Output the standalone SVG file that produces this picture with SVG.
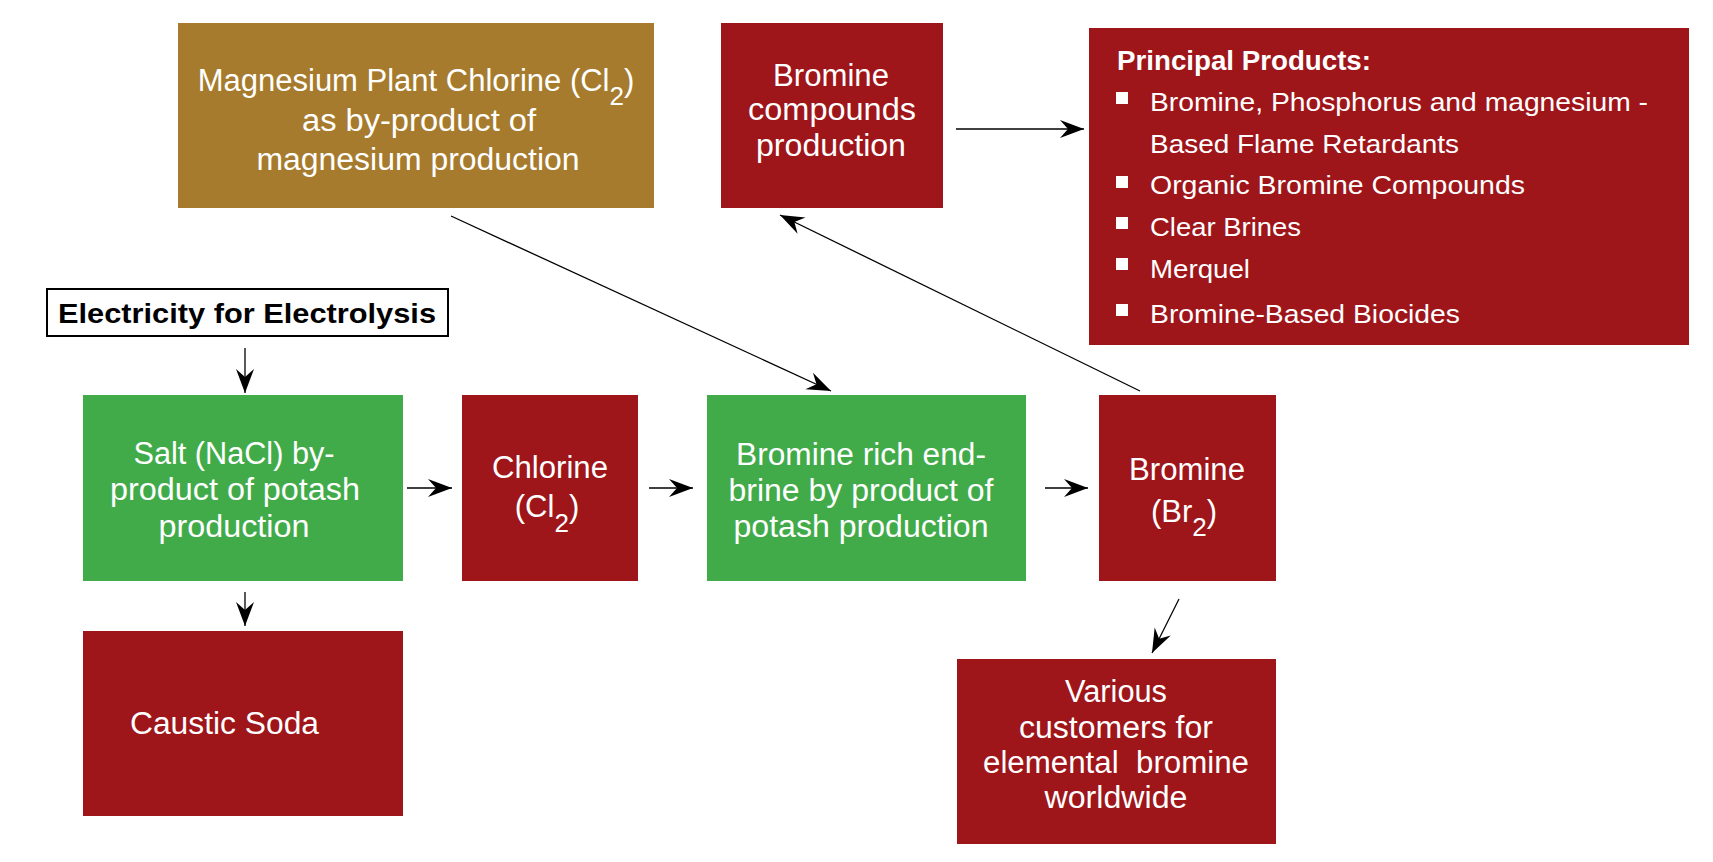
<svg xmlns="http://www.w3.org/2000/svg" width="1713" height="862" viewBox="0 0 1713 862">
<style>
  .red { fill: #9E151A; }
  .green { fill: #41AB4A; }
  .gold { fill: #A67B2D; }
  .t { font-family: "Liberation Sans", Arial, sans-serif; font-size: 31px; fill: #FFFFFF; text-anchor: middle; }
  .sub { font-size: 26px; }
  .pp { font-family: "Liberation Sans", Arial, sans-serif; font-size: 26px; fill: #FFFFFF; }
  .ppb { font-family: "Liberation Sans", Arial, sans-serif; font-size: 27px; font-weight: bold; fill: #FFFFFF; }
  .bul { fill: #FFFFFF; }
  .conn line { stroke: #000000; stroke-width: 1.3; fill: none; marker-end: url(#arr); }
</style>
<defs>
  <marker id="arr" markerUnits="userSpaceOnUse" viewBox="-25 -10 26 20" refX="0" refY="0" markerWidth="26" markerHeight="20" orient="auto">
    <path d="M0,0 L-24,-9 L-16,0 L-24,9 Z" fill="#000000"/>
  </marker>
</defs>
<rect width="1713" height="862" fill="#FFFFFF"/>

<g id="magnesium-chlorine">
  <rect class="gold" x="178" y="23" width="476" height="185"/>
  <text class="t" x="416" y="91">Magnesium Plant Chlorine (Cl<tspan class="sub" dy="14">2</tspan><tspan dy="-14">)</tspan></text>
  <text class="t" x="419" y="131" textLength="234" lengthAdjust="spacingAndGlyphs">as by-product of</text>
  <text class="t" x="418" y="170" textLength="323" lengthAdjust="spacingAndGlyphs">magnesium production</text>
</g>

<g id="bromine-compounds">
  <rect class="red" x="721" y="23" width="222" height="185"/>
  <text class="t" x="831" y="86" textLength="116" lengthAdjust="spacingAndGlyphs">Bromine</text>
  <text class="t" x="832" y="120" textLength="168" lengthAdjust="spacingAndGlyphs">compounds</text>
  <text class="t" x="831" y="156" textLength="150" lengthAdjust="spacingAndGlyphs">production</text>
</g>

<g id="principal-products">
  <rect class="red" x="1089" y="28" width="600" height="317"/>
  <text class="ppb" x="1117" y="70" textLength="254" lengthAdjust="spacingAndGlyphs">Principal Products:</text>
  <rect class="bul" x="1116" y="92" width="12" height="12"/>
  <text class="pp" x="1150" y="111" textLength="498" lengthAdjust="spacingAndGlyphs">Bromine, Phosphorus and magnesium -</text>
  <text class="pp" x="1150" y="153" textLength="309" lengthAdjust="spacingAndGlyphs">Based Flame Retardants</text>
  <rect class="bul" x="1116" y="176" width="12" height="12"/>
  <text class="pp" x="1150" y="194" textLength="375" lengthAdjust="spacingAndGlyphs">Organic Bromine Compounds</text>
  <rect class="bul" x="1116" y="217" width="12" height="12"/>
  <text class="pp" x="1150" y="236" textLength="151" lengthAdjust="spacingAndGlyphs">Clear Brines</text>
  <rect class="bul" x="1116" y="258" width="12" height="12"/>
  <text class="pp" x="1150" y="278" textLength="100" lengthAdjust="spacingAndGlyphs">Merquel</text>
  <rect class="bul" x="1116" y="304" width="12" height="12"/>
  <text class="pp" x="1150" y="323" textLength="310" lengthAdjust="spacingAndGlyphs">Bromine-Based Biocides</text>
</g>

<g id="electricity">
  <rect x="47" y="289" width="401" height="47" fill="#FFFFFF" stroke="#000000" stroke-width="2"/>
  <text x="58" y="323" font-family="Liberation Sans, Arial, sans-serif" font-size="28" font-weight="bold" fill="#000000" textLength="378" lengthAdjust="spacingAndGlyphs">Electricity for Electrolysis</text>
</g>

<g id="salt">
  <rect class="green" x="83" y="395" width="320" height="186"/>
  <text class="t" x="234" y="464" textLength="201" lengthAdjust="spacingAndGlyphs">Salt (NaCl) by-</text>
  <text class="t" x="235" y="500" textLength="250" lengthAdjust="spacingAndGlyphs">product of potash</text>
  <text class="t" x="234" y="537" textLength="151" lengthAdjust="spacingAndGlyphs">production</text>
</g>

<g id="chlorine">
  <rect class="red" x="462" y="395" width="176" height="186"/>
  <text class="t" x="550" y="478" textLength="116" lengthAdjust="spacingAndGlyphs">Chlorine</text>
  <text class="t" x="547" y="517">(Cl<tspan class="sub" dy="15">2</tspan><tspan dy="-15">)</tspan></text>
</g>

<g id="bromine-rich-brine">
  <rect class="green" x="707" y="395" width="319" height="186"/>
  <text class="t" x="861" y="465" textLength="250" lengthAdjust="spacingAndGlyphs">Bromine rich end-</text>
  <text class="t" x="861" y="501" textLength="265" lengthAdjust="spacingAndGlyphs">brine by product of</text>
  <text class="t" x="861" y="537" textLength="255" lengthAdjust="spacingAndGlyphs">potash production</text>
</g>

<g id="bromine">
  <rect class="red" x="1099" y="395" width="177" height="186"/>
  <text class="t" x="1187" y="480" textLength="116" lengthAdjust="spacingAndGlyphs">Bromine</text>
  <text class="t" x="1184" y="522">(Br<tspan class="sub" dy="14">2</tspan><tspan dy="-14">)</tspan></text>
</g>

<g id="caustic-soda">
  <rect class="red" x="83" y="631" width="320" height="185"/>
  <text class="t" x="130" y="734" style="text-anchor:start" textLength="189" lengthAdjust="spacingAndGlyphs">Caustic Soda</text>
</g>

<g id="customers">
  <rect class="red" x="957" y="659" width="319" height="185"/>
  <text class="t" x="1116" y="702" textLength="102" lengthAdjust="spacingAndGlyphs">Various</text>
  <text class="t" x="1116" y="738" textLength="194" lengthAdjust="spacingAndGlyphs">customers for</text>
  <text class="t" x="1116" y="773" textLength="266" lengthAdjust="spacingAndGlyphs" xml:space="preserve">elemental  bromine</text>
  <text class="t" x="1116" y="808" textLength="143" lengthAdjust="spacingAndGlyphs">worldwide</text>
</g>

<g id="connectors" class="conn">
  <line x1="245" y1="348" x2="245" y2="393"/>
  <line x1="245" y1="592" x2="245" y2="626"/>
  <line x1="407" y1="488" x2="452" y2="488"/>
  <line x1="649" y1="488" x2="693" y2="488"/>
  <line x1="1045" y1="488" x2="1088" y2="488"/>
  <line x1="451" y1="216" x2="831" y2="391"/>
  <line x1="1140" y1="391" x2="780" y2="215"/>
  <line x1="956" y1="129" x2="1084" y2="129"/>
  <line x1="1179" y1="599" x2="1152" y2="653"/>
</g>
</svg>
